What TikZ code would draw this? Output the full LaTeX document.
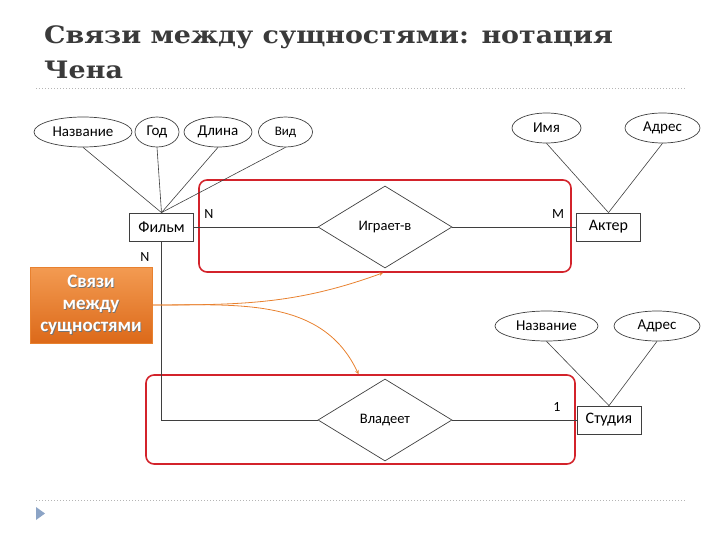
\documentclass[tikz,border=0pt]{standalone}
\usepackage{fontspec}
\setmainfont{Carlito}
\newfontfamily\titlefont[FakeStretch=1.12]{DejaVu Serif}
\usetikzlibrary{arrows}
\tikzset{>=stealth}
\usetikzlibrary{shapes,positioning}
\colorlet{background}{white}
\definecolor{penColor}{HTML}{3F3F3F}
\definecolor{titleColor}{HTML}{3A3A3A}
\definecolor{frameColor}{HTML}{D3232B}
\definecolor{noteColor}{HTML}{E8812F}
\definecolor{noteTop}{HTML}{F39B52}
\definecolor{noteBottom}{HTML}{DC6919}
\definecolor{ruleColor}{HTML}{B5B5B5}
\definecolor{bulletColor}{HTML}{8CA4C6}

\begin{document}
\begin{tikzpicture}[x=1pt,y=-1pt,
    entity/.style={draw=penColor,line width=.8pt,minimum width=64pt,minimum height=28pt,inner sep=0pt,font=\fontsize{16}{18}\selectfont},
    attr/.style={ellipse,draw=penColor,line width=.7pt,minimum height=30pt,inner sep=0pt,font=\fontsize{15}{17}\selectfont},
    rel/.style={diamond,draw=penColor,line width=.7pt,aspect=1.63,minimum width=134pt,minimum height=82pt,inner sep=0pt,font=\fontsize{14.5}{16}\selectfont},
    link/.style={draw=penColor,line width=.6pt},
    card/.style={font=\fontsize{14}{16}\selectfont,inner sep=0pt},
    group/.style={draw=frameColor,line width=1.6pt,rounded corners=8pt,inner sep=0pt},
    hint/.style={->,draw=noteColor,line width=.8pt}]
  \useasboundingbox (0,0) rectangle (720,540);

  % title and rules
  \node[anchor=base west,inner sep=0pt,text=titleColor,font=\titlefont\bfseries\fontsize{24}{30}\selectfont] (title1) at (44,44) {Связи между сущностями: нотация};
  \node[anchor=base west,inner sep=0pt,text=titleColor,font=\titlefont\bfseries\fontsize{24}{30}\selectfont] (title2) at (44,79) {Чена};
  \draw[ruleColor,line width=1pt,dotted] (36,89) -- (686,89);
  \draw[ruleColor,line width=1pt,dotted] (36,500) -- (686,500);
  \fill[bulletColor] (36,507) -- (45,513.5) -- (36,520) -- cycle;

  % relationship groups
  \node[group,minimum width=372pt,minimum height=92pt] (grp1) at (385,226) {};
  \node[group,minimum width=429pt,minimum height=89pt] (grp2) at (360.5,419.5) {};

  % entities
  \node[entity] (film) at (161.5,227) {Фильм};
  \node[entity] (actor) at (608.5,227) {Актер};
  \node[entity] (studio) at (609,420) {Студия};

  % relationships
  \node[rel] (plays) at (385,227) {Играет-в};
  \node[rel] (owns) at (385,420) {Владеет};

  % attributes
  \node[attr,minimum width=98pt] (fname) at (83,132) {Название};
  \node[attr,minimum width=44pt] (fyear) at (157,132) {Год};
  \node[attr,minimum width=68pt] (flen) at (218,132) {Длина};
  \node[attr,minimum width=54pt,font=\fontsize{13}{15}\selectfont] (ftype) at (285.5,132) {Вид};
  \node[attr,minimum width=69pt] (aname) at (546.5,128) {Имя};
  \node[attr,minimum width=75pt] (aaddr) at (662.5,128) {Адрес};
  \node[attr,minimum width=103pt] (sname) at (546.5,326) {Название};
  \node[attr,minimum width=86pt] (saddr) at (657,326) {Адрес};

  \foreach \a in {fname,fyear,flen,ftype}
    \draw[link] (\a.south) -- (film.north);
  \foreach \a in {aname,aaddr}
    \draw[link] (\a.south) -- (actor.north);
  \foreach \a in {sname,saddr}
    \draw[link] (\a.south) -- (studio.north);

  \draw[link] (film.east) -- (plays.west);
  \draw[link] (plays.east) -- (actor.west);
  \draw[link] (film.south) |- (owns.west);
  \draw[link] (owns.east) -- (studio.west);

  % cardinalities
  \node[card] (c1) at (209,214) {N};
  \node[card] (c2) at (558,214) {M};
  \node[card] (c3) at (145,257) {N};
  \node[card] (c4) at (557,407) {1};

  % note
  \node[draw=noteColor,top color=noteTop,bottom color=noteBottom,minimum width=122pt,minimum height=76pt,inner sep=0pt] (note) at (91,305) {};
  \node[text=black!55,align=center,font=\bfseries\fontsize{19}{22}\selectfont] (noteshadow) at ([xshift=.8pt,yshift=-.8pt]note.center) {Связи\\между\\сущностями};
  \node[text=white,align=center,font=\bfseries\fontsize{19}{22}\selectfont] (notetext) at (note.center) {Связи\\между\\сущностями};

  \draw[hint] (note.east) to[out=0,in=200] ([xshift=-2pt]grp1.south);
  \draw[hint] (note.east) to[out=0,in=115] ([xshift=-2pt]grp2.north);
\end{tikzpicture}
\end{document}
